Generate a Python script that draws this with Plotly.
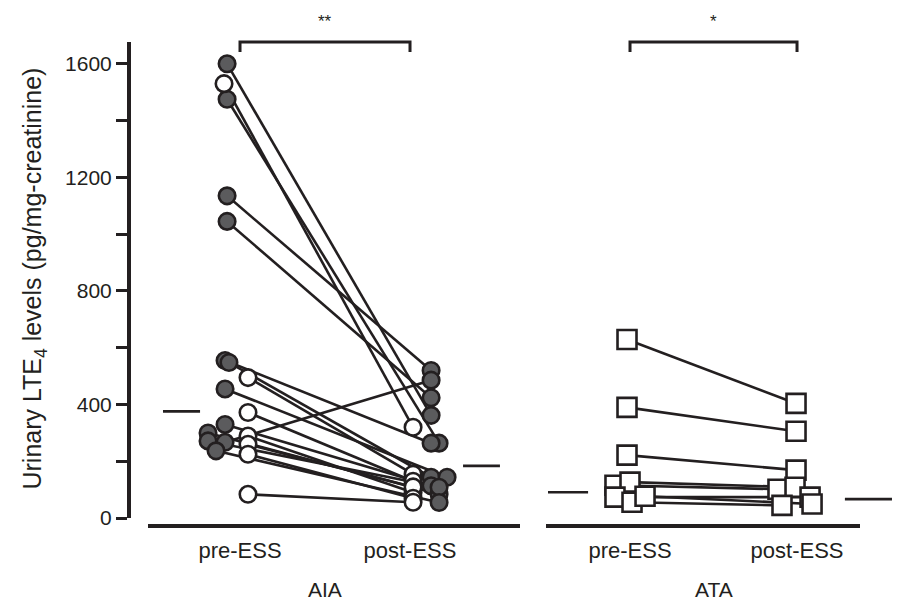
import plotly.graph_objects as go

# ---------------- data ----------------
categories = ["pre-ESS", "post-ESS"]
groups = ["AIA", "ATA"]
y_ticks = [0, 400, 800, 1200, 1600]
y_minor_ticks = [200, 600, 1000, 1400]
significance = ["**", "*"]

# AIA, filled circles (paired pre / post)
aia_filled_pre = [1600, 1475, 1135, 1045, 555, 548, 455, 330, 300, 272, 267, 237]
aia_filled_post = [362, 264, 520, 424, 264, 144, 144, 114, 84, 109, 486, 55]
# AIA, open circles (paired pre / post)
aia_open_pre = [1530, 495, 372, 289, 260, 225, 84]
aia_open_post = [320, 155, 130, 90, 110, 70, 56]
# ATA, open squares (paired pre / post)
ata_pre = [629, 390, 222, 116, 127, 74, 56, 77]
ata_post = [404, 306, 169, 102, 109, 74, 45, 50]
# group medians (pre, post)
aia_median = [376, 184]
ata_median = [91, 67]

# ---------------- layout helpers (positions / styles) ----------------
jit_aia_filled_pre = [-0.076, -0.076, -0.076, -0.076, -0.088, -0.065, -0.088, -0.088, -0.188, -0.188, -0.088, -0.141]
jit_aia_filled_post = [0.124, 0.171, 0.124, 0.124, 0.124, 0.124, 0.218, 0.124, 0.171, 0.171, 0.124, 0.171]
jit_aia_open_pre = [-0.094, 0.047, 0.047, 0.047, 0.047, 0.047, 0.047]
jit_aia_open_post = [0.018] * 7
jit_ata_pre = [-0.018, -0.018, -0.018, -0.09, 0.0, -0.09, 0.012, 0.09]
jit_ata_post = [-0.006, -0.006, -0.006, -0.114, -0.012, 0.078, -0.09, 0.09]
aia_med_span = [(-0.453, -0.235), (1.312, 1.529)]
ata_med_span = [(-0.491, -0.251), (1.287, 1.569)]

INK = "#231f20"
GRAY = "#5b5b5d"
FONT = "Liberation Sans, Arial, Helvetica, sans-serif"
W, H = 908, 614
V_SCALE = 604 / 614   # the captured page is squeezed vertically to 604 px


def px_x(p):
    return p / W


def px_y(p):
    return 1 - (p / V_SCALE) / H


def pair_lines(pre, post, jp, jq):
    xs, ys = [], []
    for a, b, j1, j2 in zip(pre, post, jp, jq):
        xs += [0 + j1, 1 + j2, None]
        ys += [a, b, None]
    return xs, ys


fig = go.Figure()

line_style = dict(color=INK, width=2.6)

# connecting lines
for pre, post, jp, jq, xa in [
    (aia_filled_pre, aia_filled_post, jit_aia_filled_pre, jit_aia_filled_post, "x"),
    (aia_open_pre, aia_open_post, jit_aia_open_pre, jit_aia_open_post, "x"),
    (ata_pre, ata_post, jit_ata_pre, jit_ata_post, "x2"),
]:
    xs, ys = pair_lines(pre, post, jp, jq)
    fig.add_trace(go.Scatter(x=xs, y=ys, mode="lines", line=line_style,
                             xaxis=xa, yaxis="y", hoverinfo="skip"))


def add_markers(vals, jit, base, xa, symbol, fill, size):
    fig.add_trace(go.Scatter(
        x=[base + j for j in jit], y=vals, mode="markers", xaxis=xa, yaxis="y",
        cliponaxis=False,
        marker=dict(symbol=symbol, size=size, color=fill,
                    line=dict(color=INK, width=2.6))))


add_markers(aia_filled_pre, jit_aia_filled_pre, 0, "x", "circle", GRAY, 16.5)
add_markers(aia_open_pre, jit_aia_open_pre, 0, "x", "circle", "white", 16.5)
add_markers(aia_open_post, jit_aia_open_post, 1, "x", "circle", "white", 16.5)
add_markers(aia_filled_post, jit_aia_filled_post, 1, "x", "circle", GRAY, 16.5)
add_markers(ata_pre, jit_ata_pre, 0, "x2", "square", "white", 19)
add_markers(ata_post, jit_ata_post, 1, "x2", "square", "white", 19)

# median segments (ATA drawn on a wider, hidden twin of the ATA axis)
for med, span, xa in [(aia_median, aia_med_span, "x"), (ata_median, ata_med_span, "x3")]:
    fig.add_trace(go.Scatter(
        x=[span[0][0], span[0][1], None, span[1][0], span[1][1]],
        y=[med[0], med[0], None, med[1], med[1]],
        mode="lines", line=dict(color=INK, width=2.6), xaxis=xa, yaxis="y",
        hoverinfo="skip"))

axis_font = dict(family=FONT, size=22, color=INK)
x_common = dict(
    anchor="free", position=px_y(527), showline=True, linewidth=4, linecolor=INK,
    tickmode="array", tickvals=[0, 1], ticktext=categories,
    ticks="outside", ticklen=3, tickcolor="rgba(0,0,0,0)",
    showgrid=False, zeroline=False, tickfont=axis_font, fixedrange=True,
)

fig.update_layout(
    width=W, height=H, margin=dict(l=0, r=0, t=0, b=0),
    paper_bgcolor="white", plot_bgcolor="rgba(0,0,0,0)", showlegend=False,
    font=dict(family=FONT, color=INK),
    xaxis=dict(domain=[px_x(148), px_x(520)], range=[-0.5412, 1.647], **x_common),
    xaxis2=dict(domain=[px_x(546), px_x(860)], range=[-0.503, 1.377], **x_common),
    xaxis3=dict(domain=[px_x(546), px_x(900)], range=[-0.503, 1.617],
                anchor="free", position=px_y(527), visible=False, fixedrange=True),
    yaxis=dict(
        domain=[px_y(519), px_y(42)], range=[0, 1677],
        anchor="free", position=px_x(128),
        showline=True, linewidth=3.5, linecolor=INK,
        tickmode="array", tickvals=y_ticks,
        ticks="outside", ticklen=11, tickwidth=3, tickcolor=INK,
        ticklabelstandoff=0,
        minor=dict(tickmode="array", tickvals=y_minor_ticks, ticks="outside",
                   ticklen=11, tickwidth=3, tickcolor=INK),
        showgrid=False, zeroline=False,
        tickfont=dict(family=FONT, size=21, color=INK), fixedrange=True,
    ),
)

annotations = [
    dict(text="Urinary LTE<sub>4</sub> levels (pg/mg-creatinine)", textangle=-90,
         xref="paper", yref="paper", x=px_x(34), y=px_y(279),
         xanchor="center", yanchor="middle", showarrow=False,
         font=dict(family=FONT, size=25, color=INK)),
]
shapes = []
for g, star, xa in zip(groups, significance, ["x", "x2"]):
    annotations.append(dict(text=g, xref=xa, yref="paper", x=0.5, y=px_y(590),
                            xanchor="center", yanchor="middle", showarrow=False,
                            font=dict(family=FONT, size=21, color=INK)))
    annotations.append(dict(text=star, xref=xa, yref="paper", x=0.5, y=px_y(22),
                            xanchor="center", yanchor="middle", showarrow=False,
                            font=dict(family=FONT, size=17, color=INK)))
    shapes.append(dict(type="path", xref=xa, yref="paper",
                       path=f"M 0,{px_y(52)} L 0,{px_y(42)} L 1,{px_y(42)} L 1,{px_y(52)}",
                       line=dict(color=INK, width=3)))

fig.update_layout(annotations=annotations, shapes=shapes)
# remove the browser's default page margin so the figure starts at the window corner
fig.write_html(
    "out.html",
    config={"displayModeBar": False, "staticPlot": True},
    post_script="document.body.style.margin='0';document.body.style.overflow='hidden';"
                "document.documentElement.style.overflow='hidden';",
)
